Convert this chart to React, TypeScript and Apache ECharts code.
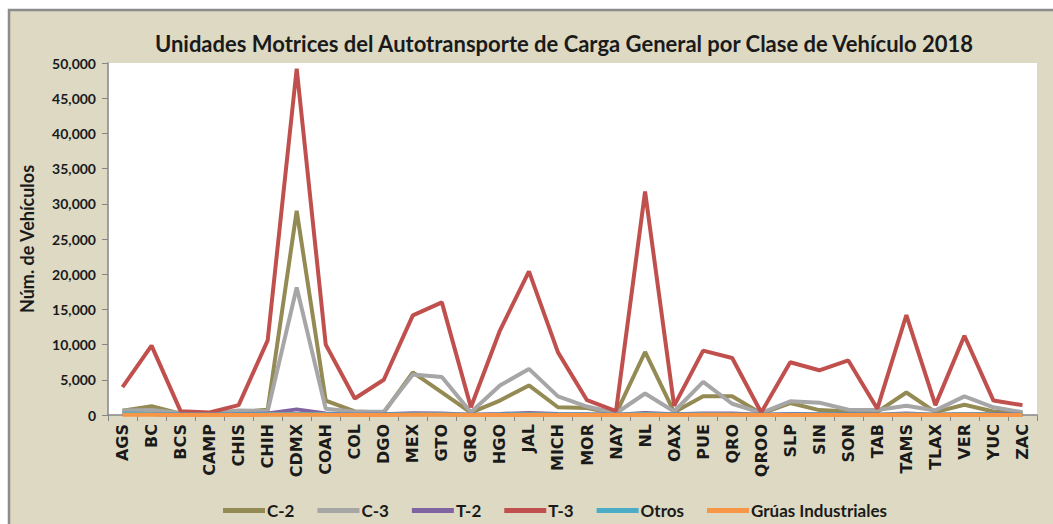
import React, { useEffect, useRef } from "react";
import * as echarts from "echarts";

const title = "Unidades Motrices del Autotransporte de Carga General por Clase de Vehículo 2018";
const yAxisName = "Núm. de Vehículos";

const categories = ["AGS", "BC", "BCS", "CAMP", "CHIS", "CHIH", "CDMX", "COAH", "COL", "DGO", "MEX", "GTO", "GRO", "HGO", "JAL", "MICH", "MOR", "NAY", "NL", "OAX", "PUE", "QRO", "QROO", "SLP", "SIN", "SON", "TAB", "TAMS", "TLAX", "VER", "YUC", "ZAC"];

const c2 = [600, 1250, 200, 100, 400, 750, 29000, 2050, 500, 350, 6050, 3200, 350, 2050, 4200, 1100, 1000, 200, 8950, 400, 2650, 2650, 200, 1700, 700, 500, 450, 3200, 400, 1450, 500, 200];
const c3 = [650, 700, 300, 250, 650, 550, 18100, 900, 450, 450, 5750, 5400, 400, 4200, 6550, 2650, 1200, 250, 3050, 500, 4700, 1600, 300, 1950, 1750, 750, 700, 1300, 650, 2650, 1100, 400];
const t2 = [150, 150, 50, 50, 100, 200, 800, 200, 50, 100, 250, 200, 50, 150, 300, 150, 100, 50, 300, 100, 200, 200, 50, 150, 100, 100, 50, 200, 50, 150, 100, 50];
const t3 = [3950, 9850, 550, 350, 1400, 10600, 49200, 10000, 2350, 5000, 14150, 16000, 1100, 12000, 20400, 8900, 2100, 550, 31750, 1300, 9150, 8100, 350, 7500, 6350, 7750, 900, 14200, 1400, 11250, 2050, 1400];
const otros = [250, 150, 80, 60, 80, 100, 150, 100, 50, 60, 120, 100, 50, 80, 120, 80, 60, 40, 150, 60, 100, 80, 50, 80, 70, 60, 50, 100, 40, 90, 60, 40];
const gruas = [20, 20, 10, 10, 10, 20, 40, 20, 10, 10, 30, 20, 10, 10, 30, 10, 10, 10, 30, 10, 20, 20, 10, 10, 10, 10, 10, 20, 10, 20, 10, 10];

const seriesNames = ["C-2", "C-3", "T-2", "T-3", "Otros", "Grúas Industriales"];
const seriesColors = ["#948A54", "#A6A6A6", "#8064A2", "#C0504D", "#4BACC6", "#F79646"];
const seriesData = [c2, c3, t2, t3, otros, gruas];

export default function App() {
  const ref = useRef<HTMLDivElement>(null);
  useEffect(() => {
    if (!ref.current) return;
    const chart = echarts.init(ref.current, undefined, { renderer: "svg" });
    chart.setOption({
      animation: false,
      backgroundColor: "#ffffff",
      textStyle: { fontFamily: "Lato, 'Liberation Sans', sans-serif" },
      graphic: [
        {
          type: "rect",
          z: -10,
          silent: true,
          shape: { x: 9, y: 10, width: 1100, height: 600 },
          style: { fill: "#DDD9C3", stroke: "#8C8C8C", lineWidth: 2.5 },
        },
      ],
      title: {
        text: title,
        left: 559,
        textAlign: "center",
        top: 27,
        textStyle: { fontSize: 22, fontWeight: "bold", color: "#1a1a1a", fontFamily: "Lato, sans-serif" },
      },
      legend: {
        bottom: 0,
        left: 218,
        itemWidth: 42,
        itemHeight: 5,
        itemGap: 23,
        icon: "rect",
        textStyle: { fontSize: 17, fontWeight: "bold", color: "#1a1a1a", padding: [0, 0, 0, -3] },
        data: seriesNames,
      },
      grid: {
        left: 108,
        top: 63,
        width: 929,
        height: 352,
        show: true,
        backgroundColor: "#ffffff",
        borderWidth: 0,
      },
      xAxis: {
        type: "category",
        data: categories,
        boundaryGap: true,
        axisLine: { lineStyle: { color: "#868686", width: 1.5 } },
        axisTick: { show: true, length: 6, alignWithLabel: false, lineStyle: { color: "#868686" } },
        axisLabel: { rotate: 90, fontSize: 16, fontWeight: "bold", color: "#1a1a1a", margin: 9, interval: 0, fontFamily: "'DejaVu Sans', sans-serif" },
      },
      yAxis: {
        type: "value",
        min: 0,
        max: 50000,
        interval: 5000,
        name: yAxisName,
        nameLocation: "middle",
        nameGap: 72,
        nameTextStyle: { fontSize: 18, fontWeight: "bold", color: "#1a1a1a" },
        axisLine: { show: true, lineStyle: { color: "#868686", width: 1.5 } },
        axisTick: { show: true, length: 6, lineStyle: { color: "#868686" } },
        splitLine: { show: false },
        axisLabel: {
          fontSize: 14,
          fontWeight: "bold",
          color: "#1a1a1a",
          margin: 12,
          formatter: (v: number) => v.toLocaleString("en-US"),
        },
      },
      series: seriesNames.map((name, i) => ({
        name,
        type: "line",
        data: seriesData[i],
        symbol: "none",
        color: seriesColors[i],
        lineStyle: { width: 4, color: seriesColors[i] },
        z: 2 + i,
      })),
    });
    return () => chart.dispose();
  }, []);
  return <div ref={ref} style={{ position: "absolute", left: 0, top: 0, width: 1053, height: 524 }} />;
}
